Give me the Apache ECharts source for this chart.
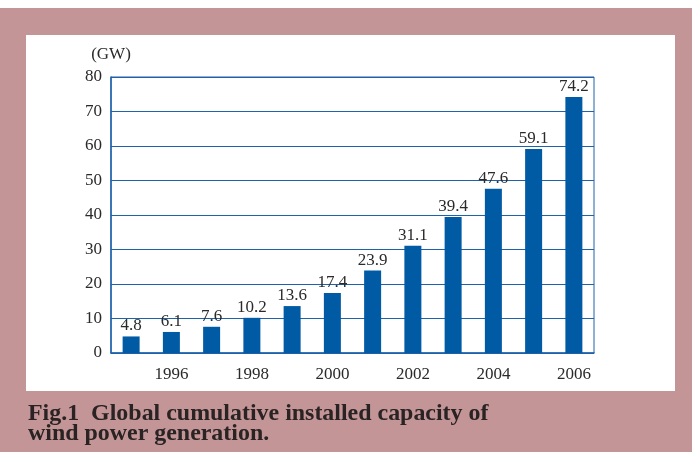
<!DOCTYPE html>
<html><head><meta charset="utf-8">
<script src="https://cdn.jsdelivr.net/npm/echarts@6/dist/echarts.min.js"></script>
<style>html,body{margin:0;padding:0;background:#fff}#c{width:692px;height:452px}</style>
</head><body><div id="c"></div>
<script>
var years = ['1995','1996','1997','1998','1999','2000','2001','2002','2003','2004','2005','2006'];
var capacity = [4.8, 6.1, 7.6, 10.2, 13.6, 17.4, 23.9, 31.1, 39.4, 47.6, 59.1, 74.2];
var captionLines = ['Fig.1  Global cumulative installed capacity of', 'wind power generation.'];
var unitLabel = '(GW)';

var serif = '"Liberation Serif","Times New Roman",serif';
var blue = '#1f62aa';
var chart = echarts.init(document.getElementById('c'), null, {renderer:'canvas'});
chart.setOption({
  animation: false,
  backgroundColor: '#ffffff',
  graphic: [
    {type:'rect', z:-10, shape:{x:0,y:8,width:692,height:444}, style:{fill:'#c49597'}},
    {type:'rect', z:-9, shape:{x:26,y:35,width:649,height:356}, style:{fill:'#ffffff'}},
    {type:'text', x:28, y:402.5, scaleX:1.04, style:{text:captionLines[0], font:'bold 23px '+serif, fill:'#2a2324'}},
    {type:'text', x:28, y:422.5, scaleX:1.04, style:{text:captionLines[1], font:'bold 23px '+serif, fill:'#2a2324'}}
  ],
  grid: {left:111, top:77, right:98, bottom:99, show:true, borderColor:blue, borderWidth:1, backgroundColor:'transparent'},
  xAxis: {
    type:'category', data:years, boundaryGap:true,
    axisLine:{show:true, lineStyle:{color:blue, width:1.5}},
    axisTick:{show:false},
    axisLabel:{interval:function(i){return i%2===1;}, margin:13, color:'#2a2a2a', fontFamily:serif, fontSize:17}
  },
  yAxis: {
    type:'value', min:0, max:80, interval:10,
    name: unitLabel, nameLocation:'end', nameGap:14,
    nameTextStyle:{color:'#2a2a2a', fontFamily:serif, fontSize:17, align:'center', verticalAlign:'bottom'},
    axisLine:{show:true, lineStyle:{color:blue, width:1.5}},
    axisTick:{show:false},
    splitLine:{show:true, lineStyle:{color:blue, width:1}},
    axisLabel:{margin:9, color:'#2a2a2a', fontFamily:serif, fontSize:17}
  },
  series: [{
    type:'bar', data:capacity, barWidth:17,
    itemStyle:{color:'#005aa4'},
    label:{show:true, position:'top', distance:2, color:'#2a2a2a', fontFamily:serif, fontSize:17}
  }]
});
</script></body></html>
